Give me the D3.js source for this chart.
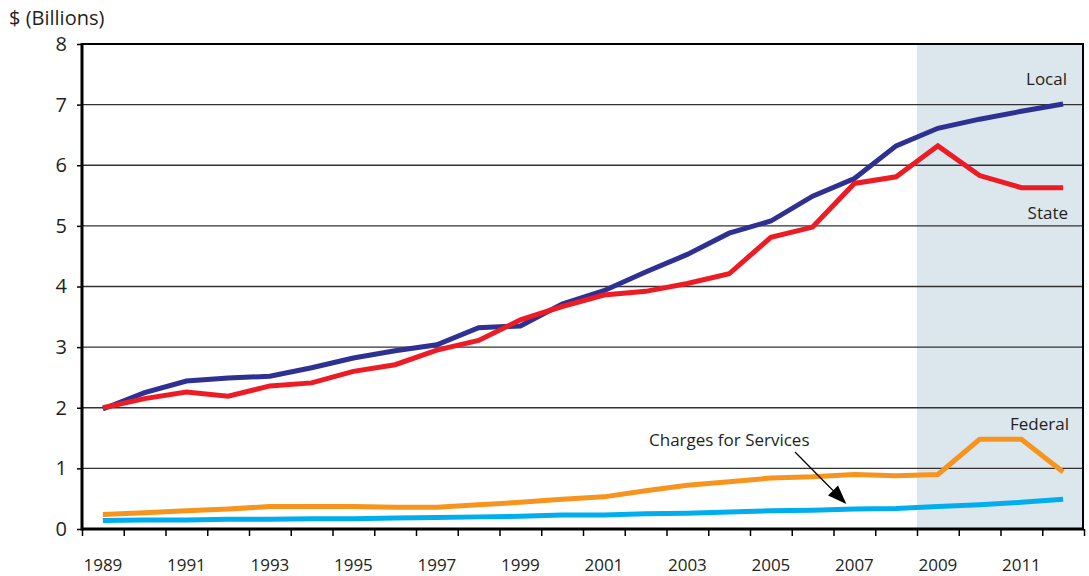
<!DOCTYPE html>
<html>
<head>
<meta charset="utf-8">
<script src="https://cdn.jsdelivr.net/npm/d3@7"></script>
<style>
  html, body { margin: 0; padding: 0; background: #fff; }
  svg { display: block; }
  text { font-family: "Open Sans", "Noto Sans", sans-serif; fill: #231f20; }
</style>
</head>
<body>
<svg id="chart" width="1089" height="576"></svg>
<script>
const years = d3.range(1989, 2013);
const labelYears = [1989, 1991, 1993, 1995, 1997, 1999, 2001, 2003, 2005, 2007, 2009, 2011];
const yTicks = [0, 1, 2, 3, 4, 5, 6, 7, 8];

const local = [1.98, 2.25, 2.44, 2.49, 2.52, 2.66, 2.82, 2.94, 3.04, 3.32, 3.35, 3.71, 3.93, 4.24, 4.53, 4.88, 5.08, 5.49, 5.78, 6.32, 6.61, 6.76, 6.89, 7.01];
const state = [2.00, 2.15, 2.26, 2.19, 2.36, 2.41, 2.60, 2.71, 2.95, 3.11, 3.45, 3.67, 3.86, 3.92, 4.05, 4.21, 4.81, 4.98, 5.70, 5.81, 6.32, 5.83, 5.63, 5.63];
const federal = [0.24, 0.27, 0.30, 0.33, 0.37, 0.37, 0.37, 0.36, 0.36, 0.40, 0.44, 0.49, 0.53, 0.63, 0.72, 0.78, 0.84, 0.86, 0.90, 0.88, 0.90, 1.48, 1.48, 0.94];
const charges = [0.14, 0.15, 0.15, 0.16, 0.16, 0.17, 0.17, 0.18, 0.19, 0.20, 0.21, 0.23, 0.23, 0.25, 0.26, 0.28, 0.30, 0.31, 0.33, 0.34, 0.37, 0.40, 0.44, 0.49];

const seriesNames = ["Local", "State", "Federal", "Charges for Services"];
const seriesColors = ["#2e3192", "#ed1c24", "#f7941d", "#00aeef"];
const forecastStart = 2009;

const svg = d3.select("#chart");
const pL = 82, pR = 1084, pT = 44, pB = 529;

const xBand = d3.scaleBand().domain(years).range([pL, pR]).padding(0);
const xEdge = d3.scaleLinear().domain([1989, 2013]).range([pL, pR]);
const y = d3.scaleLinear().domain([0, 8]).range([pB, pT]);
const cx = yr => xBand(yr) + xBand.bandwidth() / 2;

// shaded projection area
svg.append("rect")
  .attr("x", xBand(forecastStart)).attr("y", y(8))
  .attr("width", xEdge(2013) - xBand(forecastStart)).attr("height", y(0) - y(8))
  .attr("fill", "#dce6ed");

// gridlines
svg.append("g")
  .selectAll("line").data(yTicks.filter(d => d > 0 && d < 8)).join("line")
  .attr("x1", pL).attr("x2", pR)
  .attr("y1", d => y(d)).attr("y2", d => y(d))
  .attr("stroke", "#333").attr("stroke-width", 1.3);

// y axis
const yAxis = svg.append("g").attr("transform", `translate(${pL},0)`)
  .call(d3.axisLeft(y).tickValues(yTicks).tickSize(5).tickPadding(10).tickFormat(d3.format("d")));
yAxis.select(".domain").remove();
yAxis.selectAll(".tick line").attr("stroke", "#000").attr("stroke-width", 1.5);
yAxis.selectAll(".tick text").attr("font-size", 20).style("font-family", '"Open Sans", sans-serif').attr("fill", "#231f20");

// x axis tick marks at band edges
const xTickAxis = svg.append("g").attr("transform", `translate(0,${pB})`)
  .call(d3.axisBottom(xEdge).tickValues(d3.range(1989, 2014)).tickSize(7).tickFormat(""));
xTickAxis.select(".domain").remove();
xTickAxis.selectAll(".tick line").attr("stroke", "#000").attr("stroke-width", 1.5);

// x labels at band centers
const xLabAxis = svg.append("g").attr("transform", `translate(0,${pB})`)
  .call(d3.axisBottom(xBand).tickValues(labelYears).tickSize(0).tickPadding(30));
xLabAxis.select(".domain").remove();
xLabAxis.selectAll(".tick text").attr("font-size", 17).style("font-family", '"Open Sans", sans-serif').attr("fill", "#231f20");

// lines
const lineGen = d3.line().x((d, i) => cx(years[i])).y(d => y(d));
const allSeries = [charges, federal, local, state];
const allColors = [seriesColors[3], seriesColors[2], seriesColors[0], seriesColors[1]];
svg.append("g").selectAll("path").data(allSeries).join("path")
  .attr("d", d => lineGen(d))
  .attr("fill", "none")
  .attr("stroke", (d, i) => allColors[i])
  .attr("stroke-width", 5)
  .attr("stroke-linejoin", "miter");

// frame
svg.append("rect").attr("x", pL).attr("y", pT).attr("width", pR - pL - 1).attr("height", pB - pT)
  .attr("fill", "none").attr("stroke", "#000").attr("stroke-width", 2);
svg.append("line").attr("x1", pL).attr("x2", pL).attr("y1", pT - 1).attr("y2", pB + 1.5)
  .attr("stroke", "#000").attr("stroke-width", 3);
svg.append("line").attr("x1", pL).attr("x2", pR).attr("y1", pB).attr("y2", pB)
  .attr("stroke", "#000").attr("stroke-width", 3);

// title
svg.append("text").attr("x", 9).attr("y", 25).attr("font-size", 20).text("$ (Billions)");

// series labels
const lab = (t, xx, yy, anchor) => svg.append("text").attr("x", xx).attr("y", yy)
  .attr("font-size", 17).attr("text-anchor", anchor || "end").text(t);
lab(seriesNames[0], 1067, 85);
lab(seriesNames[1], 1068, 219);
lab(seriesNames[2], 1069, 430);
lab(seriesNames[3], 649, 446, "start");

// arrow
const tipX = cx(2007) - 8, tipY = y(charges[18]) - 5;
const startX = 795, startY = 452;
const ang = Math.atan2(tipY - startY, tipX - startX);
const headLen = 19, headW = 7;
const bx = tipX - headLen * Math.cos(ang), by = tipY - headLen * Math.sin(ang);
svg.append("line").attr("x1", startX).attr("y1", startY).attr("x2", bx).attr("y2", by)
  .attr("stroke", "#000").attr("stroke-width", 1.2);
svg.append("path")
  .attr("d", `M${tipX},${tipY}L${bx + headW * Math.sin(ang)},${by - headW * Math.cos(ang)}L${bx - headW * Math.sin(ang)},${by + headW * Math.cos(ang)}Z`)
  .attr("fill", "#000");
</script>
</body>
</html>
